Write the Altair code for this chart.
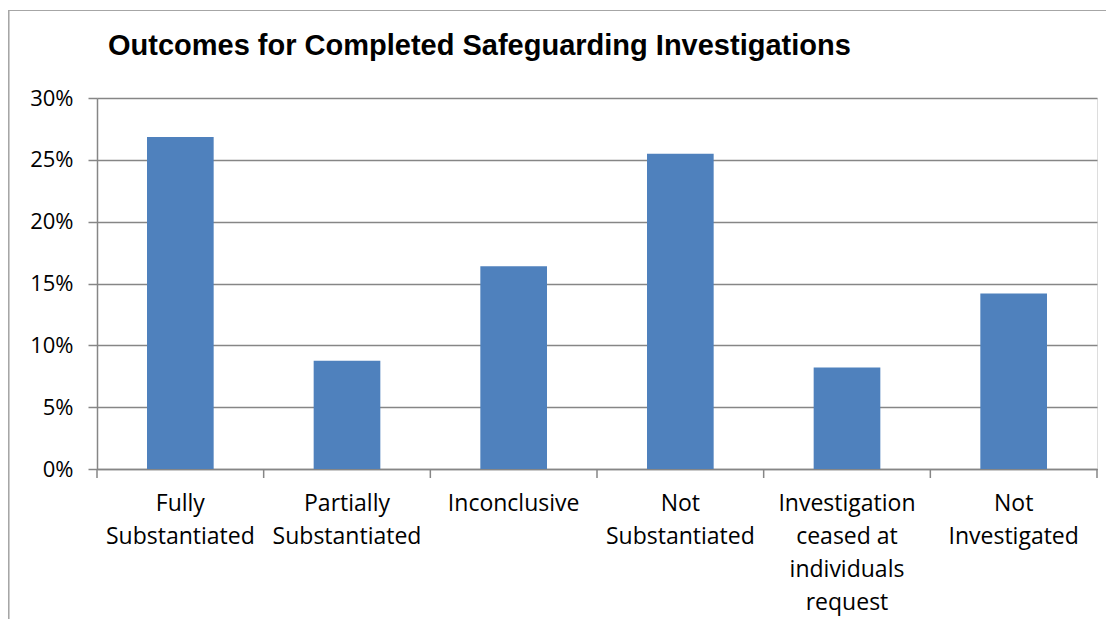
import altair as alt
import pandas as pd

categories = [
    "Fully Substantiated",
    "Partially Substantiated",
    "Inconclusive",
    "Not Substantiated",
    "Investigation ceased at individuals request",
    "Not Investigated",
]
label_lines = [
    ["Fully", "Substantiated"],
    ["Partially", "Substantiated"],
    ["Inconclusive"],
    ["Not", "Substantiated"],
    ["Investigation", "ceased at", "individuals", "request"],
    ["Not", "Investigated"],
]
values = [0.2685, 0.0875, 0.164, 0.255, 0.082, 0.142]
y_ticks = [0, 0.05, 0.10, 0.15, 0.20, 0.25, 0.30]
boundaries = [0, 1, 2, 3, 4, 5, 6]

df = pd.DataFrame({"category": categories, "value": values})
bdf = pd.DataFrame({"b": boundaries})

pairs = ",".join(
    "'%s': [%s]" % (c, ",".join("'%s'" % l for l in ls)) for c, ls in zip(categories, label_lines)
)
label_expr = "({%s})[datum.label]" % pairs

W, H = 1000, 371
GRID = "#868686"
LABEL_FONT = "Open Sans"

bars = alt.Chart(df).mark_bar(color="#4F81BD").encode(
    x=alt.X(
        "category:N",
        sort=categories,
        scale=alt.Scale(paddingInner=0.6, paddingOuter=0.3),
        axis=alt.Axis(
            title=None,
            labelAngle=0,
            labelExpr=label_expr,
            labelFont=LABEL_FONT,
            labelFontSize=23,
            labelColor="#000000",
            labelLineHeight=33,
            labelPadding=23,
            ticks=False,
            domainColor=GRID,
            domainWidth=1.5,
            grid=False,
        ),
    ),
    y=alt.Y(
        "value:Q",
        scale=alt.Scale(domain=[0, 0.3]),
        axis=alt.Axis(
            title=None,
            values=y_ticks,
            format=".0%",
            labelFont=LABEL_FONT,
            labelFontSize=22,
            labelColor="#000000",
            labelPadding=15,
            tickSize=9,
            tickColor=GRID,
            tickWidth=1.5,
            domainColor=GRID,
            domainWidth=1.5,
            gridColor=GRID,
            gridWidth=1.5,
        ),
    ),
)

ticks = alt.Chart(bdf).mark_rule(color=GRID, strokeWidth=1.5).encode(
    x=alt.X("b:Q", scale=alt.Scale(domain=[0, 6], nice=False, zero=False), axis=None),
    y=alt.value(H),
    y2=alt.value(H + 9),
)

border = alt.Chart(bdf).mark_rect(
    fill=None, stroke="#A6A6A6", strokeWidth=1.2, clip=False
).encode(
    x=alt.value(-88.5),
    x2=alt.value(W + 200),
    y=alt.value(-87.5),
    y2=alt.value(H + 300),
)

chart = (
    alt.layer(border, bars, ticks)
    .resolve_scale(x="independent")
    .properties(
        width=W,
        height=H,
        autosize=alt.AutoSizeParams(type="none"),
        padding={"left": 89, "top": 90, "right": 9, "bottom": 150},
        title=alt.Title(
            "Outcomes for Completed Safeguarding Investigations",
            anchor="start",
            frame="group",
            dx=11,
            offset=-51,
            font="Liberation Sans",
            fontSize=29,
            fontWeight="bold",
            color="#000000",
        ),
    )
    .configure_view(stroke=None)
    .configure(background="white")
)

chart.save("out.html", embed_options={"renderer": "svg", "actions": False})
